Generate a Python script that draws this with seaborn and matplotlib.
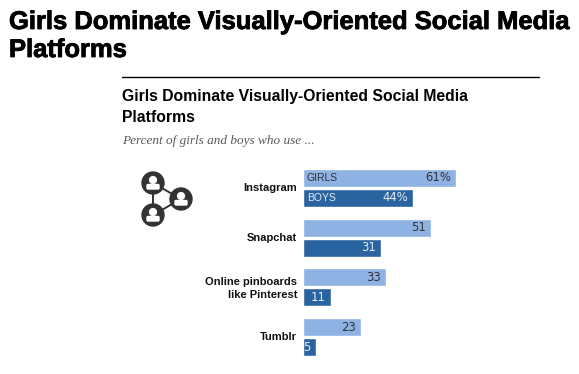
# %% data
import matplotlib
matplotlib.use('Agg')
import matplotlib.pyplot as plt
import matplotlib.patheffects as pe
from matplotlib.patches import Circle, FancyBboxPatch
from matplotlib.transforms import ScaledTranslation
import pandas as pd
import seaborn as sns

platforms = ['Instagram', 'Snapchat', 'Online pinboards\nlike Pinterest', 'Tumblr']
girls = [61, 51, 33, 23]
boys = [44, 31, 11, 5]
girls_labels = ['61%', '51', '33', '23']
boys_labels = ['44%', '31', '11', '5']

W, H = 579, 374

sns.set_theme(style='white')
plt.rcParams['font.family'] = ['Liberation Sans', 'DejaVu Sans']

df = pd.DataFrame({
    'platform': platforms * 2,
    'pct': girls + boys,
    'group': ['GIRLS'] * 4 + ['BOYS'] * 4,
})

fig = plt.figure(figsize=(W / 100, H / 100), dpi=100, facecolor='white')

def txt(x, y, s, **kw):
    # text placed in picture pixels
    return fig.text(x / W, 1 - y / H, s, **kw)

# %% titles
title_kw = dict(fontweight='bold', color='black', va='center', ha='left')
heavy = [pe.withStroke(linewidth=0.6, foreground='black')]
txt(9, 22, 'Girls Dominate Visually-Oriented Social Media', fontsize=18.4, path_effects=heavy, **title_kw)
txt(9, 50, 'Platforms', fontsize=18.4, path_effects=heavy, **title_kw)
fig.add_artist(plt.Line2D([122 / W, 539 / W], [1 - 76.5 / H] * 2, color='black', lw=1))
txt(122, 96, 'Girls Dominate Visually-Oriented Social Media', fontsize=11.3, **title_kw)
txt(122, 118, 'Platforms', fontsize=11.3, **title_kw)
txt(122, 141, 'Percent of girls and boys who use ...', fontsize=9.5, style='italic',
    family=['Liberation Serif'], color='#595959', va='center', ha='left')

# %% bars
ax_left, ax_right, ax_top, ax_bottom = 303, 456, 163, 362
ax = fig.add_axes([ax_left / W, 1 - ax_bottom / H, (ax_right - ax_left) / W, (ax_bottom - ax_top) / H])
sns.barplot(data=df, y='platform', x='pct', hue='group', order=platforms, hue_order=['GIRLS', 'BOYS'],
            palette=['#8db2e3', '#2a64a0'], width=0.805, gap=0.1, saturation=1, legend=False, ax=ax)
ax.set_xlim(0, 61)
ax.set_ylim(3.5, -0.5)
ax.set_xlabel('')
ax.set_ylabel('')
ax.set_xticks([])
ax.set_yticks(range(4))
ax.set_yticklabels(platforms, fontsize=8, fontweight='bold', color='#111111', linespacing=1.35, ha='right')
ax.tick_params(axis='y', length=0, pad=4.3)
for lab in ax.get_yticklabels():
    lab.set_transform(lab.get_transform() + ScaledTranslation(0, 1 / 100, fig.dpi_scale_trans))
sns.despine(ax=ax, left=True, bottom=True)
ax.patch.set_alpha(0)

for cont, labels, col in [(ax.containers[0], girls_labels, '#333333'), (ax.containers[1], boys_labels, '#e6edf5')]:
    for t in ax.bar_label(cont, labels=labels, padding=-3.7, fontsize=8.4, color=col, family=['DejaVu Sans']):
        t.set_ha('right')
ax.text(1.5, ax.containers[0][0].get_y() + ax.containers[0][0].get_height() / 2, 'GIRLS',
        fontsize=7.5, color='#333333', va='center', ha='left')
ax.text(1.5, ax.containers[1][0].get_y() + ax.containers[1][0].get_height() / 2, 'BOYS',
        fontsize=7.5, color='#e6edf5', va='center', ha='left')

# %% people icon
icon = fig.add_axes([0, 0, 1, 1], zorder=3)
icon.set_xlim(0, W)
icon.set_ylim(H, 0)
icon.axis('off')
nodes = [(153, 183), (181, 199), (153, 215)]
dark = '#333333'
icon.plot([153, 181, 153, 153], [183, 199, 215, 183], color=dark, lw=1.4, zorder=1)
for x, y in nodes:
    icon.add_patch(Circle((x, y), 11, color=dark, zorder=2))
    icon.add_patch(Circle((x, y - 3), 3.4, color='white', zorder=3))
    icon.add_patch(FancyBboxPatch((x - 5, y + 2.5), 10, 2.5, boxstyle='round,pad=1', color='white', zorder=3))

fig.savefig('out.png', dpi=100)
